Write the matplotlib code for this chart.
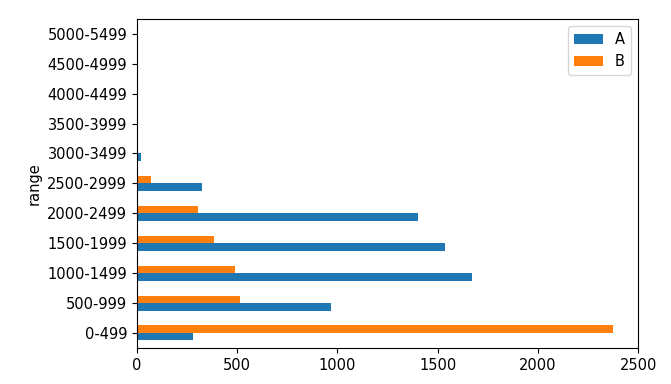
import matplotlib
matplotlib.use('Agg')
import matplotlib.pyplot as plt
import pandas as pd

ranges = ['0-499', '500-999', '1000-1499', '1500-1999', '2000-2499', '2500-2999',
          '3000-3499', '3500-3999', '4000-4499', '4500-4999', '5000-5499']
a_counts = [281, 969, 1672, 1538, 1403, 326, 20, 0, 0, 0, 0]
b_counts = [2376, 514, 490, 386, 304, 71, 3, 0, 0, 0, 0]

plt.rcParams['font.size'] = 10.5

df = pd.DataFrame({'A': a_counts, 'B': b_counts}, index=pd.Index(ranges, name='range'))

fig = plt.figure(figsize=(6.71, 3.84), dpi=100)
ax = fig.add_axes([0.204, 0.094, 0.747, 0.857])
df.plot(kind='barh', ax=ax)
ax.set_xlim(0, 2500)
ax.legend(loc='upper right')

fig.savefig('out.png', dpi=100)
